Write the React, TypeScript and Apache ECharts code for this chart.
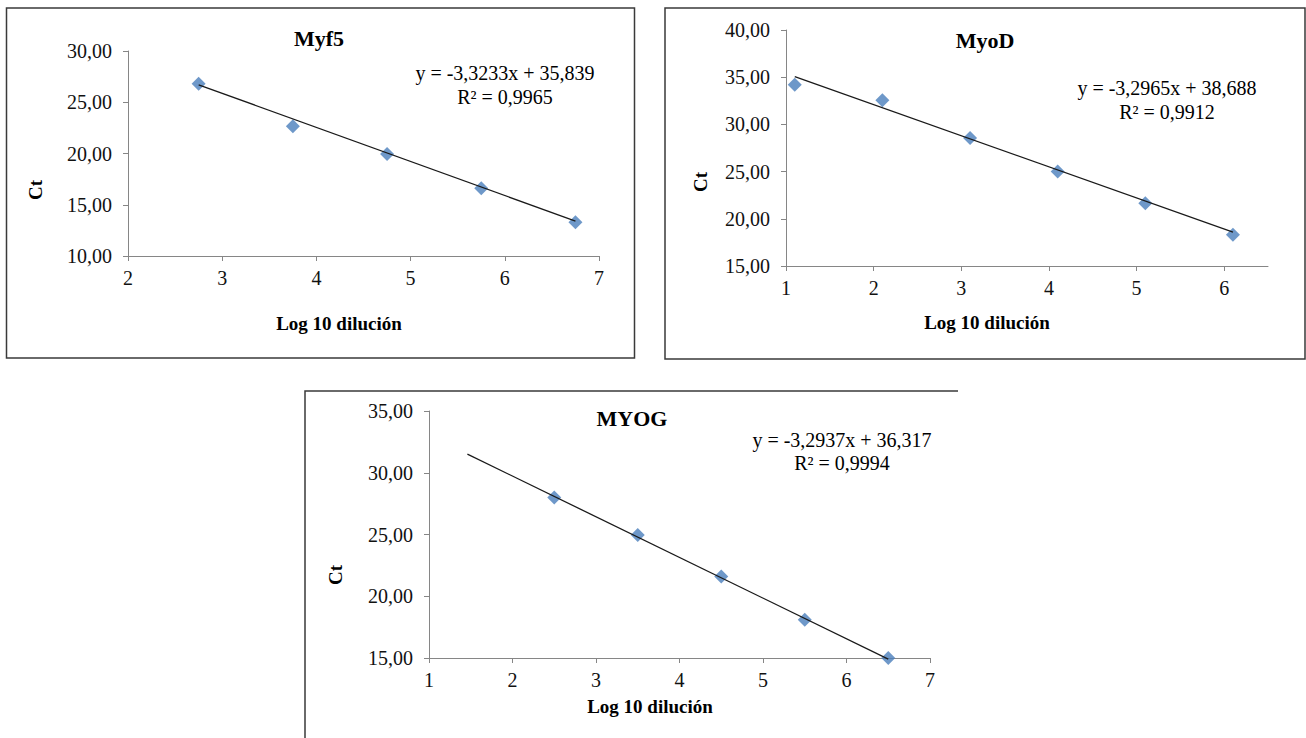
import React, { useEffect, useRef } from "react";
import * as echarts from "echarts";

// ---- Data ----
const myf5X = [2.75, 3.75, 4.75, 5.75, 6.75];
const myf5Y = [26.8, 22.65, 19.95, 16.6, 13.3];
const myf5Slope = -3.3233;
const myf5Intercept = 35.839;
const myf5TrendX = [2.75, 6.75];

const myodX = [1.1, 2.1, 3.1, 4.1, 5.1, 6.1];
const myodY = [34.2, 32.55, 28.55, 25.0, 21.65, 18.3];
const myodSlope = -3.2965;
const myodIntercept = 38.688;
const myodTrendX = [1.1, 6.1];

const myogX = [2.5, 3.5, 4.5, 5.5, 6.5];
const myogY = [28.0, 24.95, 21.6, 18.1, 15.0];
const myogSlope = -3.2937;
const myogIntercept = 36.317;
const myogTrendX = [1.46, 6.5];

const titles = ["Myf5", "MyoD", "MYOG"];
const equations = ["y = -3,3233x + 35,839", "y = -3,2965x + 38,688", "y = -3,2937x + 36,317"];
const r2Texts = ["R² = 0,9965", "R² = 0,9912", "R² = 0,9994"];
const xAxisTitle = "Log 10 dilución";
const yAxisTitle = "Ct";

const FONT = "Liberation Serif";
const AXIS_COLOR = "#868686";
const MARKER = "#4a7ebb";

function trend(xs: number[], slope: number, intercept: number) {
  return xs.map((x) => [x, slope * x + intercept]);
}

export default function App() {
  const ref = useRef<HTMLDivElement>(null);

  useEffect(() => {
    if (!ref.current) return;
    const chart = echarts.init(ref.current, null, { renderer: "svg" });

    const yLabel = (v: number) => v.toFixed(2).replace(".", ",");

    const grids = [
      { left: 128, top: 51, width: 471, height: 205 },
      { left: 786, top: 30, width: 482, height: 236 },
      { left: 429, top: 411, width: 501, height: 247 },
    ];

    const xRanges = [
      { min: 2, max: 7, ticks: [2, 3, 4, 5, 6, 7] },
      { min: 1, max: 6.5, ticks: [1, 2, 3, 4, 5, 6] },
      { min: 1, max: 7, ticks: [1, 2, 3, 4, 5, 6, 7] },
    ];
    const yRanges = [
      { min: 10, max: 30 },
      { min: 15, max: 40 },
      { min: 15, max: 35 },
    ];

    const xAxes = xRanges.map((r, i) => ({
      type: "value",
      gridIndex: i,
      min: r.min,
      max: r.max,
      splitLine: { show: false },
      axisLine: { show: true, onZero: false, lineStyle: { color: AXIS_COLOR, width: 1 } },
      axisTick: { show: true, length: 5, lineStyle: { color: AXIS_COLOR }, customValues: r.ticks },
      axisLabel: {
        customValues: r.ticks,
        margin: 12,
        color: "#111",
        fontFamily: FONT,
        fontSize: 20,
      },
    }));

    const yAxes = yRanges.map((r, i) => ({
      type: "value",
      gridIndex: i,
      min: r.min,
      max: r.max,
      interval: 5,
      splitLine: { show: false },
      axisLine: { show: true, onZero: false, lineStyle: { color: AXIS_COLOR, width: 1 } },
      axisTick: { show: true, length: 5, lineStyle: { color: AXIS_COLOR } },
      axisLabel: {
        formatter: yLabel,
        margin: 16,
        color: "#111",
        fontFamily: FONT,
        fontSize: 20,
      },
    }));

    const pts = (xs: number[], ys: number[]) => xs.map((x, i) => [x, ys[i]]);

    const scatter = (i: number, data: number[][]) => ({
      type: "scatter",
      xAxisIndex: i,
      yAxisIndex: i,
      symbol: "diamond",
      symbolSize: 14,
      clip: false,
      itemStyle: { color: MARKER },
      data,
      z: 2,
    });
    const line = (i: number, data: number[][]) => ({
      type: "line",
      xAxisIndex: i,
      yAxisIndex: i,
      showSymbol: false,
      clip: false,
      lineStyle: { color: "#1a1a1a", width: 1.3 },
      data,
      z: 3,
    });

    const textEl = (text: string, x: number, y: number, size: number, bold: boolean, rotation = 0) => ({
      type: "text",
      x,
      y,
      rotation,
      style: {
        text,
        fill: "#000",
        fontFamily: FONT,
        fontSize: size,
        fontWeight: bold ? "bold" : "normal",
        align: "center",
        verticalAlign: "middle",
      },
      z: 10,
    });

    const graphics: any[] = [
      {
        type: "rect",
        shape: { x: 6.5, y: 8, width: 628, height: 350 },
        style: { fill: "none", stroke: "#3a3a3a", lineWidth: 1.5 },
      },
      {
        type: "rect",
        shape: { x: 665, y: 8, width: 640, height: 351 },
        style: { fill: "none", stroke: "#3a3a3a", lineWidth: 1.5 },
      },
      {
        type: "polyline",
        shape: { points: [[305, 740], [305, 391], [958, 391]] },
        style: { fill: "none", stroke: "#3a3a3a", lineWidth: 1.5 },
      },
      textEl(titles[0], 319, 38, 22, true),
      textEl(titles[1], 985, 40, 22, true),
      textEl(titles[2], 632, 418, 22, true),
      textEl(equations[0], 505, 73, 20, false),
      textEl(r2Texts[0], 505, 97, 20, false),
      textEl(equations[1], 1167, 88, 20, false),
      textEl(r2Texts[1], 1167, 112, 20, false),
      textEl(equations[2], 842, 440, 20, false),
      textEl(r2Texts[2], 842, 463, 20, false),
      textEl(xAxisTitle, 339, 323, 19, true),
      textEl(xAxisTitle, 987, 322, 19, true),
      textEl(xAxisTitle, 650, 706, 19, true),
      textEl(yAxisTitle, 35, 190, 19, true, Math.PI / 2),
      textEl(yAxisTitle, 700, 182, 19, true, Math.PI / 2),
      textEl(yAxisTitle, 335, 575, 19, true, Math.PI / 2),
    ];

    chart.setOption({
      animation: false,
      backgroundColor: "#fff",
      textStyle: { fontFamily: FONT },
      grid: grids.map((g) => ({ ...g, containLabel: false })),
      xAxis: xAxes,
      yAxis: yAxes,
      series: [
        scatter(0, pts(myf5X, myf5Y)),
        line(0, trend(myf5TrendX, myf5Slope, myf5Intercept)),
        scatter(1, pts(myodX, myodY)),
        line(1, trend(myodTrendX, myodSlope, myodIntercept)),
        scatter(2, pts(myogX, myogY)),
        line(2, trend(myogTrendX, myogSlope, myogIntercept)),
      ],
      graphic: graphics,
    });

    return () => chart.dispose();
  }, []);

  return (
    <div
      ref={ref}
      style={{ position: "fixed", left: 0, top: 0, width: 1306, height: 738, background: "#fff" }}
    />
  );
}
